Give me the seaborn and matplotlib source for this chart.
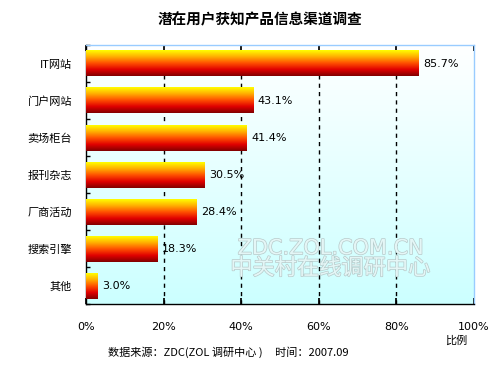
import numpy as np
import pandas as pd
import matplotlib
matplotlib.use("Agg")
import matplotlib.pyplot as plt
import matplotlib.patheffects as pe
from matplotlib.colors import LinearSegmentedColormap
import seaborn as sns

# =====================================================
# DATA
# =====================================================

channels = ["IT网站", "门户网站", "卖场柜台", "报刊杂志", "厂商活动", "搜索引擎", "其他"]
shares = [85.7, 43.1, 41.4, 30.5, 28.4, 18.3, 3.0]
x_ticks = [0, 20, 40, 60, 80, 100]

df = pd.DataFrame({"channel": channels, "share": shares})

# =====================================================
# SETTINGS
# =====================================================

sns.set_theme(style="white")
plt.rcParams["font.family"] = ["Noto Sans CJK SC", "DejaVu Sans"]
plt.rcParams["text.color"] = "black"
plt.rcParams["xtick.color"] = "black"
plt.rcParams["ytick.color"] = "black"

fig = plt.figure(figsize=(5, 3.75), dpi=100)
ax = fig.add_axes([0.172, 0.189, 0.776, 0.691])

sns.barplot(data=df, x="share", y="channel", orient="h", width=0.7,
            color="red", ax=ax)

ax.set_xlim(0, 100)
ylim = ax.get_ylim()

# background gradient (white -> light cyan)
bg = LinearSegmentedColormap.from_list("bg", ["#FFFFFF", "#CCFFFF"])
ax.imshow(np.linspace(0, 1, 256).reshape(-1, 1), cmap=bg, aspect="auto",
          extent=[0, 1, 0, 1], transform=ax.transAxes, zorder=0,
          origin="upper")

# bar gradients (yellow top -> dark red bottom)
bar_cmap = LinearSegmentedColormap.from_list(
    "bar", ["#FFFF00", "#FFB000", "#FF5000", "#E00000", "#800000"])
grad = np.linspace(0, 1, 256).reshape(-1, 1)
for p in ax.patches:
    x0, y0 = p.get_x(), p.get_y()
    w, h = p.get_width(), p.get_height()
    p.set_visible(False)
    ax.imshow(grad, cmap=bar_cmap, aspect="auto", origin="upper",
              extent=[x0, x0 + w, y0 + h, y0], zorder=3)

ax.set_ylim(ylim)

# value labels
for i, v in enumerate(shares):
    ax.text(v + 1.2, i, f"{v}%", va="center", ha="left", fontsize=8,
            family=["DejaVu Sans"], zorder=4)

# dashed gridlines
for t in x_ticks[1:-1]:
    ax.axvline(t, color="black", linestyle=(0, (3, 3)), linewidth=1, zorder=2)

# axes styling
for side in ["left", "bottom"]:
    ax.spines[side].set_color("black")
    ax.spines[side].set_linewidth(1)
for side in ["top", "right"]:
    ax.spines[side].set_color("#99CCFF")
    ax.spines[side].set_linewidth(1)

ax.set_xticks(x_ticks)
ax.set_xticklabels([f"{t}%" for t in x_ticks], fontsize=8,
                   family=["DejaVu Sans"])
ax.tick_params(axis="x", direction="in", length=4, pad=13, top=True,
               bottom=True, color="black")
ax.set_yticks(np.arange(len(channels) + 1) - 0.5, minor=True)
ax.tick_params(axis="y", which="minor", direction="in", length=3,
               color="black", left=True)
ax.tick_params(axis="y", which="major", length=0, labelsize=8, pad=10)
ax.set_xlabel("")
ax.set_ylabel("")

# watermark
wm = dict(color="#E4F6F6", ha="center", va="center", zorder=5,
          path_effects=[pe.withStroke(linewidth=1.0, foreground="#B8CACA")])
ax.text(0.63, 0.216, "ZDC.ZOL.COM.CN", transform=ax.transAxes,
        fontsize=15, family=["DejaVu Sans"], **wm)
ax.text(0.63, 0.139, "中关村在线调研中心", transform=ax.transAxes,
        fontsize=16, **wm)

# titles and notes
fig.text(0.52, 0.947, "潜在用户获知产品信息渠道调查", ha="center", va="center",
         fontsize=10.5, fontweight="bold")
fig.text(0.912, 0.093, "比例", ha="center", va="center", fontsize=8)
fig.text(0.216, 0.061, "数据来源：ZDC(ZOL 调研中心 )     时间：2007.09",
         ha="left", va="center", fontsize=8)

fig.savefig("out.png", dpi=100, facecolor="white")
